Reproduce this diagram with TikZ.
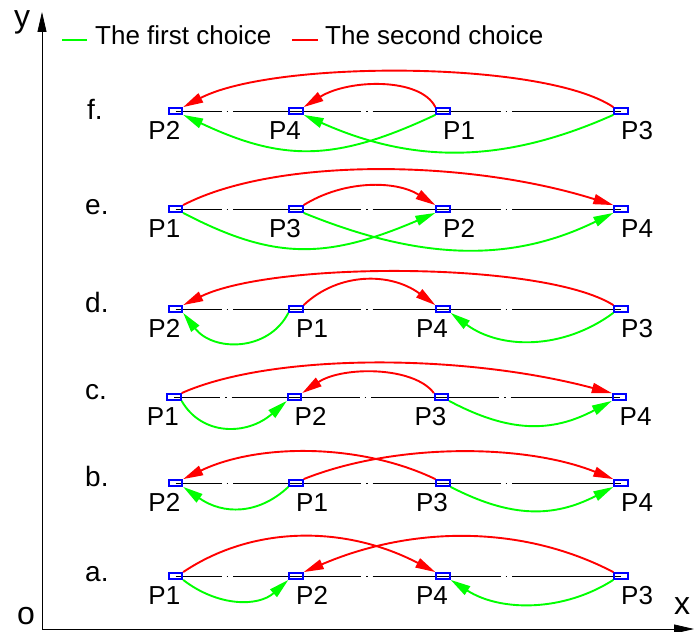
\documentclass[tikz,border=0pt]{standalone}
\usepackage{fontspec}
\setmainfont{Liberation Sans}
\usetikzlibrary{arrows.meta,backgrounds}
\begin{document}
\begin{tikzpicture}[x=1pt,y=1pt,>={Triangle[length=20pt,width=10pt]},
    pt/.style={draw=blue,line width=1.8pt,minimum width=13.5pt,minimum height=6pt,inner sep=0pt},
    lbl/.style={font=\fontsize{26}{26}\selectfont,inner sep=0pt},
    row/.style={font=\fontsize{28}{28}\selectfont,inner sep=0pt,anchor=base west},
    ax/.style={font=\fontsize{32}{32}\selectfont,inner sep=0pt,anchor=base},
    first/.style={->,draw=green,line width=1.9pt},
    second/.style={->,draw=red,line width=1.9pt},
    centre/.style={line width=0.9pt,dash pattern=on 128pt off 5pt on 1.5pt off 5pt,dash phase=82pt}]
    \useasboundingbox (0,0) rectangle (694,632);
    % axes
    \coordinate (o) at (42,3);
    \coordinate (ytip) at (42,620);
    \coordinate (xtip) at (694,3);
    \draw[line width=0.8pt,-{Triangle[length=20pt,width=9pt]}] (o) -- (ytip);
    \draw[line width=0.8pt,-{Triangle[length=20pt,width=9pt]}] (o) -- (xtip);
    \node[ax] (ylab) at (22,604) {y};
    \node[ax] (olab) at (26,7) {o};
    \node[ax] (xlab) at (682,17) {x};
    % legend
    \coordinate (g1) at (62,592);
    \coordinate (g2) at (87,592);
    \coordinate (r1) at (292,592);
    \coordinate (r2) at (318,592);
    \draw[green,line width=1.8pt] (g1) -- (g2);
    \draw[red,line width=1.8pt] (r1) -- (r2);
    \node[lbl,anchor=base west] (leg1) at (95,587) {The first choice};
    \node[lbl,anchor=base west] (leg2) at (325,587) {The second choice};

    % f.
    \node[row] (frow) at (87,512) {f.};
    \node[pt] (f2) at (175.5,521) {};
    \node[pt] (f4) at (296,521) {};
    \node[pt] (f1) at (443,521) {};
    \node[pt] (f3) at (621,521) {};
    \node[lbl,anchor=base east] (f2l) at (180.5,492) {P2};
    \node[lbl,anchor=base east] (f4l) at (301,492) {P4};
    \node[lbl,anchor=base west] (f1l) at (443,492) {P1};
    \node[lbl,anchor=base west] (f3l) at (621,492) {P3};
    \draw[second] (f3.north west) .. controls +(-70,47) and +(90,47) .. (f2.north east);
    \draw[second] (f1.north west) .. controls +(-15,30) and +(45,28) .. (f4.north east);
    \draw[first] (f1.south west) .. controls +(-100,-47) and +(100,-47) .. (f2.south east);
    \draw[first] (f3.south west) .. controls +(-110,-49) and +(110,-49) .. (f4.south east);

    % e.
    \node[row] (erow) at (85,417) {e.};
    \node[pt] (e1) at (175.5,423) {};
    \node[pt] (e3) at (296,423) {};
    \node[pt] (e2) at (443,423) {};
    \node[pt] (e4) at (621,423) {};
    \node[lbl,anchor=base east] (e1l) at (180.5,394) {P1};
    \node[lbl,anchor=base east] (e3l) at (301,394) {P3};
    \node[lbl,anchor=base west] (e2l) at (443,394) {P2};
    \node[lbl,anchor=base west] (e4l) at (621,394) {P4};
    \draw[second] (e1.north east) .. controls +(90,47) and +(-150,47) .. (e4.north west);
    \draw[second] (e3.north east) .. controls +(40,25) and +(-40,25) .. (e2.north west);
    \draw[first] (e1.south east) .. controls +(90,-47) and +(-110,-47) .. (e2.south west);
    \draw[first] (e3.south east) .. controls +(120,-49) and +(-100,-49) .. (e4.south west);

    % d.
    \node[row] (drow) at (85,319) {d.};
    \node[pt] (d2) at (175.5,323) {};
    \node[pt] (d1) at (296,323) {};
    \node[pt] (d4) at (443,323) {};
    \node[pt] (d3) at (621,323) {};
    \node[lbl,anchor=base east] (d2l) at (180.5,294) {P2};
    \node[lbl,anchor=base west] (d1l) at (296,294) {P1};
    \node[lbl,anchor=base east] (d4l) at (448,294) {P4};
    \node[lbl,anchor=base west] (d3l) at (621,294) {P3};
    \draw[second] (d3.north west) .. controls +(-70,44) and +(90,44) .. (d2.north east);
    \draw[second] (d1.north east) .. controls +(35,33) and +(-45,33) .. (d4.north west);
    \draw[first] (d1.south west) .. controls +(-20,-39) and +(30,-39) .. (d2.south east);
    \draw[first] (d3.south west) .. controls +(-50,-37) and +(50,-37) .. (d4.south east);

    % c.
    \node[row] (crow) at (85,232) {c.};
    \node[pt] (c1) at (174,235) {};
    \node[pt] (c2) at (294.5,235) {};
    \node[pt] (c3) at (441.5,235) {};
    \node[pt] (c4) at (619.5,235) {};
    \node[lbl,anchor=base east] (c1l) at (179,206) {P1};
    \node[lbl,anchor=base west] (c2l) at (294.5,206) {P2};
    \node[lbl,anchor=base east] (c3l) at (446.5,206) {P3};
    \node[lbl,anchor=base west] (c4l) at (619.5,206) {P4};
    \draw[second] (c1.north east) .. controls +(90,40) and +(-150,40) .. (c4.north west);
    \draw[second] (c3.north west) .. controls +(-20,27) and +(40,27) .. (c2.north east);
    \draw[first] (c1.south east) .. controls +(20,-35) and +(-40,-35) .. (c2.south west);
    \draw[first] (c3.south east) .. controls +(60,-32) and +(-60,-32) .. (c4.south west);

    % b.
    \node[row] (brow) at (85,145) {b.};
    \node[pt] (b2) at (175.5,149) {};
    \node[pt] (b1) at (296,149) {};
    \node[pt] (b3) at (443,149) {};
    \node[pt] (b4) at (621,149) {};
    \node[lbl,anchor=base east] (b2l) at (180.5,120) {P2};
    \node[lbl,anchor=base west] (b1l) at (296,120) {P1};
    \node[lbl,anchor=base east] (b3l) at (448,120) {P3};
    \node[lbl,anchor=base west] (b4l) at (621,120) {P4};
    \draw[second] (b1.north east) .. controls +(90,36) and +(-90,36) .. (b4.north west);
    \draw[second] (b3.north west) .. controls +(-75,36) and +(75,36) .. (b2.north east);
    \draw[first] (b1.south west) .. controls +(-30,-28) and +(40,-28) .. (b2.south east);
    \draw[first] (b3.south east) .. controls +(60,-31) and +(-60,-31) .. (b4.south west);

    % a.
    \node[row] (arow) at (85,50) {a.};
    \node[pt] (a1) at (175.5,56) {};
    \node[pt] (a2) at (296,56) {};
    \node[pt] (a4) at (443,56) {};
    \node[pt] (a3) at (621,56) {};
    \node[lbl,anchor=base east] (a1l) at (180.5,27) {P1};
    \node[lbl,anchor=base west] (a2l) at (296,27) {P2};
    \node[lbl,anchor=base east] (a4l) at (448,27) {P4};
    \node[lbl,anchor=base west] (a3l) at (621,27) {P3};
    \draw[second] (a1.north east) .. controls +(70,47) and +(-90,47) .. (a4.north west);
    \draw[second] (a3.north west) .. controls +(-90,47) and +(110,47) .. (a2.north east);
    \draw[first] (a1.south east) .. controls +(35,-27) and +(-30,-27) .. (a2.south west);
    \draw[first] (a3.south west) .. controls +(-50,-32) and +(50,-32) .. (a4.south east);

    % centre lines
    \begin{scope}[on background layer]
        \draw[centre] (f2.center) -- (f3.center);
        \draw[centre] (e1.center) -- (e4.center);
        \draw[centre] (d2.center) -- (d3.center);
        \draw[centre] (c1.center) -- (c4.center);
        \draw[centre] (b2.center) -- (b4.center);
        \draw[centre] (a1.center) -- (a3.center);
    \end{scope}
\end{tikzpicture}
\end{document}
